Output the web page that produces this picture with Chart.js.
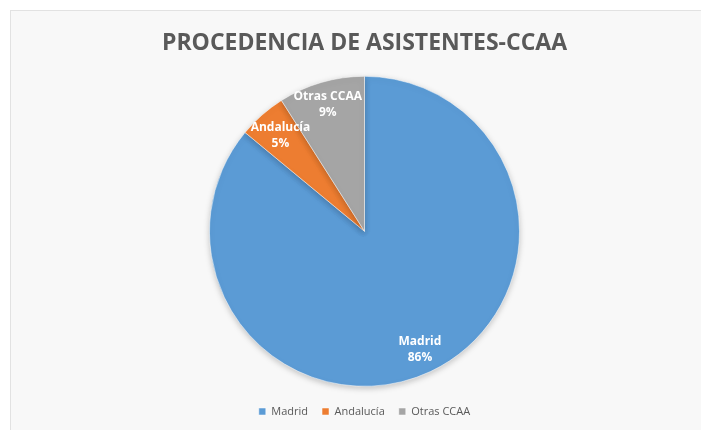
<!DOCTYPE html>
<html>
<head>
<meta charset="utf-8">
<script src="https://cdn.jsdelivr.net/npm/chart.js@4"></script>
<style>
  html, body { margin: 0; padding: 0; background: #fff; }
  #frame {
    position: absolute; left: 10px; top: 10px; width: 700px; height: 430px;
    border: 1px solid #e2e2e2; background: #f8f8f8;
  }
  #wrap { position: absolute; left: 0; top: 0; width: 701px; height: 430px; }
</style>
</head>
<body>
<div id="frame"></div>
<div id="wrap"><canvas id="chart" width="701" height="430"></canvas></div>
<script>
const categories = ["Madrid", "Andalucía", "Otras CCAA"];
const values = [86, 5, 9];
const colors = ["#5B9BD5", "#ED7D31", "#A5A5A5"];
// how far out along the radius each label sits
const labelRadius = [0.84, 0.82, 0.85];

const sliceLabels = {
  id: "sliceLabels",
  afterDatasetsDraw(chart) {
    const ctx = chart.ctx;
    const meta = chart.getDatasetMeta(0);
    const total = values.reduce((a, b) => a + b, 0);
    ctx.save();
    ctx.fillStyle = "#fff";
    ctx.font = "bold 12px 'Open Sans', sans-serif";
    ctx.textAlign = "center";
    ctx.textBaseline = "middle";
    meta.data.forEach((arc, i) => {
      const mid = (arc.startAngle + arc.endAngle) / 2;
      const r = arc.outerRadius * labelRadius[i];
      const x = arc.x + Math.cos(mid) * r;
      const y = arc.y + Math.sin(mid) * r;
      ctx.fillText(categories[i], x, y - 8);
      ctx.fillText(Math.round(values[i] / total * 100) + "%", x, y + 8);
    });
    ctx.restore();
  }
};

const pieShadow = {
  id: "pieShadow",
  beforeDatasetsDraw(chart) {
    const ctx = chart.ctx;
    ctx.save();
    ctx.shadowColor = "rgba(0,0,0,0.22)";
    ctx.shadowBlur = 6;
    ctx.shadowOffsetY = 2;
  },
  afterDatasetsDraw(chart) {
    chart.ctx.restore();
  }
};

new Chart(document.getElementById("chart"), {
  type: "pie",
  data: {
    labels: categories,
    datasets: [{
      data: values,
      backgroundColor: colors,
      borderColor: "#ffffff",
      borderWidth: 0.5,
      radius: 155
    }]
  },
  options: {
    responsive: false,
    animation: false,
    layout: { padding: { left: 28, right: 0, top: 0, bottom: 3 } },
    plugins: {
      title: {
        display: true,
        text: "PROCEDENCIA DE ASISTENTES-CCAA",
        color: "#595959",
        font: { family: "'Open Sans', sans-serif", size: 23, weight: "bold" },
        padding: { top: 30, bottom: 13 }
      },
      legend: {
        position: "bottom",
        labels: {
          color: "#595959",
          font: { family: "'Open Sans', sans-serif", size: 11 },
          boxWidth: 7,
          boxHeight: 7,
          padding: 14
        }
      },
      tooltip: { enabled: false }
    }
  },
  plugins: [pieShadow, sliceLabels]
});
</script>
</body>
</html>
